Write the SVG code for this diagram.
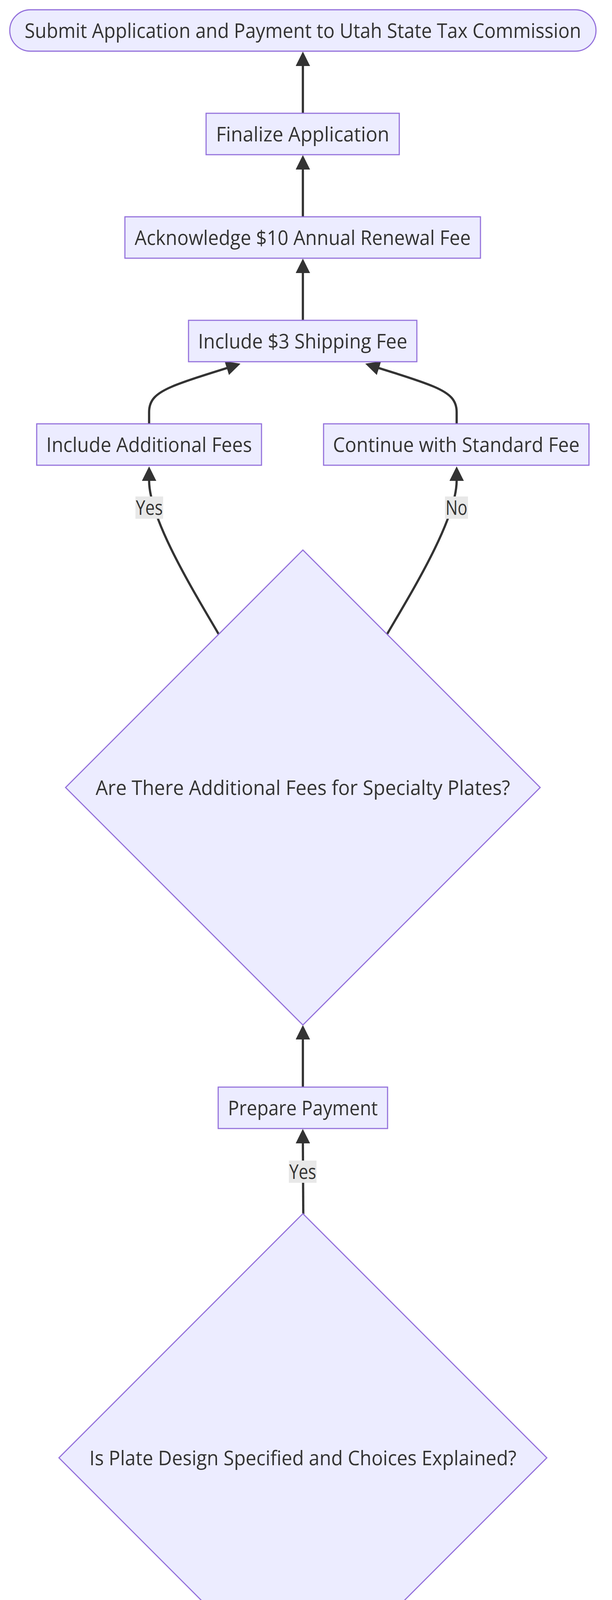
<svg xmlns="http://www.w3.org/2000/svg" width="1568" height="5558" viewBox="0 0 1568 5558">
<style>
.node rect, .node polygon { fill: #ECECFF; stroke: #9370DB; stroke-width: 2.85; }
.node text, .lbl text { font-family: "Open Sans", "DejaVu Sans", sans-serif; font-size: 51px; fill: #333333; text-anchor: middle; }
.edge { fill: none; stroke: #333333; stroke-width: 5.7; }
.lbl rect { fill: #e8e8e8; }
</style>
<defs>
<marker id="arr" viewBox="0 0 10 10" refX="0.3" refY="5" markerUnits="userSpaceOnUse" markerWidth="37" markerHeight="37" orient="auto">
<path d="M0,0 L10,5 L0,10 z" fill="#333333"/>
</marker>
</defs>
<rect x="0" y="0" width="1568" height="5558" fill="#ffffff"/>
<g id="connectors">
<path class="edge" d="M776,290 L776,168" marker-end="url(#arr)"/>
<path class="edge" d="M776,555 L776,433" marker-end="url(#arr)"/>
<path class="edge" d="M776,820 L776,698" marker-end="url(#arr)"/>
<path class="edge" d="M382,1085 L382,1055 C382,1025 398,1008 440,990 C480,973 535,957 582,942" marker-end="url(#arr)"/>
<path class="edge" d="M1170,1085 L1170,1055 C1170,1025 1154,1008 1112,990 C1072,973 1017,957 970,942" marker-end="url(#arr)"/>
<path class="edge" d="M560,1623 C500,1520 382,1330 382,1230" marker-end="url(#arr)"/>
<path class="edge" d="M992,1623 C1052,1520 1170,1330 1170,1230" marker-end="url(#arr)"/>
<path class="edge" d="M776,2783 L776,2660" marker-end="url(#arr)"/>
<path class="edge" d="M777,3108 L776,2926" marker-end="url(#arr)"/>
<path class="edge" d="M762,4573 C745,4510 733,4460 733,4420 C733,4390 736,4370 737,4359" marker-end="url(#arr)"/>
<path class="edge" d="M817,4321 C819,4360 820,4400 820,4440 C820,4480 810,4505 801,4536" marker-end="url(#arr)"/>
<path class="edge" d="M776,4839 L776,4716" marker-end="url(#arr)"/>
<path class="edge" d="M776,5103 L776,4982" marker-end="url(#arr)"/>
<path class="edge" d="M776,5368 L776,5246" marker-end="url(#arr)"/>
<g class="lbl" id="lbl-yes1"><rect x="347" y="1271" width="71" height="57"/><text x="382.5" y="1318" textLength="69" lengthAdjust="spacingAndGlyphs">Yes</text></g>
<g class="lbl" id="lbl-no1"><rect x="1140" y="1271" width="59" height="57"/><text x="1169.5" y="1318" textLength="56" lengthAdjust="spacingAndGlyphs">No</text></g>
<g class="lbl" id="lbl-yes2"><rect x="740" y="2971" width="71" height="57"/><text x="775.5" y="3018" textLength="69" lengthAdjust="spacingAndGlyphs">Yes</text></g>
<g class="lbl" id="lbl-no2"><rect x="793" y="4436" width="60" height="57"/><text x="823" y="4483" textLength="56" lengthAdjust="spacingAndGlyphs">No</text></g>
</g>
<g class="node" id="submit"><rect x="25" y="25" width="1502" height="106" rx="53" ry="53"/><text x="776" y="97" textLength="1426" lengthAdjust="spacingAndGlyphs">Submit Application and Payment to Utah State Tax Commission</text></g>
<g class="node" id="finalize"><rect x="528" y="290" width="495" height="106"/><text x="775.5" y="362" textLength="444" lengthAdjust="spacingAndGlyphs">Finalize Application</text></g>
<g class="node" id="renewal"><rect x="320" y="555" width="911" height="106"/><text x="775.5" y="627" textLength="861" lengthAdjust="spacingAndGlyphs">Acknowledge $10 Annual Renewal Fee</text></g>
<g class="node" id="shipping"><rect x="483" y="820" width="585" height="106"/><text x="775.5" y="892" textLength="536" lengthAdjust="spacingAndGlyphs">Include $3 Shipping Fee</text></g>
<g class="node" id="additional"><rect x="94" y="1085" width="576" height="106"/><text x="382" y="1157" textLength="527" lengthAdjust="spacingAndGlyphs">Include Additional Fees</text></g>
<g class="node" id="standard"><rect x="829" y="1085" width="680" height="106"/><text x="1169" y="1157" textLength="632" lengthAdjust="spacingAndGlyphs">Continue with Standard Fee</text></g>
<g class="node" id="fees-decision"><polygon points="776,1408 1384,2016 776,2624 168,2016"/><text x="776" y="2035" textLength="1062" lengthAdjust="spacingAndGlyphs">Are There Additional Fees for Specialty Plates?</text></g>
<g class="node" id="payment"><rect x="559" y="2783" width="434" height="106"/><text x="776" y="2855" textLength="384" lengthAdjust="spacingAndGlyphs">Prepare Payment</text></g>
<g class="node" id="design-decision"><polygon points="776,3107 1401,3732 776,4357 151,3732"/><text x="776" y="3751" textLength="1094" lengthAdjust="spacingAndGlyphs">Is Plate Design Specified and Choices Explained?</text></g>
<g class="node" id="specify"><rect x="349" y="4573" width="853" height="106"/><text x="775.5" y="4645" textLength="804" lengthAdjust="spacingAndGlyphs">Specify Plate Choices and Meanings</text></g>
<g class="node" id="design"><rect x="524" y="4839" width="504" height="106"/><text x="776" y="4911" textLength="454" lengthAdjust="spacingAndGlyphs">Choose Plate Design</text></g>
<g class="node" id="gather"><rect x="335" y="5103" width="882" height="106"/><text x="776" y="5175" textLength="832" lengthAdjust="spacingAndGlyphs">Gather Required Vehicle Information</text></g>
<g class="node" id="start"><rect x="230" y="5368" width="1091" height="106" rx="53" ry="53"/><text x="775.5" y="5440" textLength="1015" lengthAdjust="spacingAndGlyphs">Start Applying for Personalized License Plate</text></g>
</svg>
